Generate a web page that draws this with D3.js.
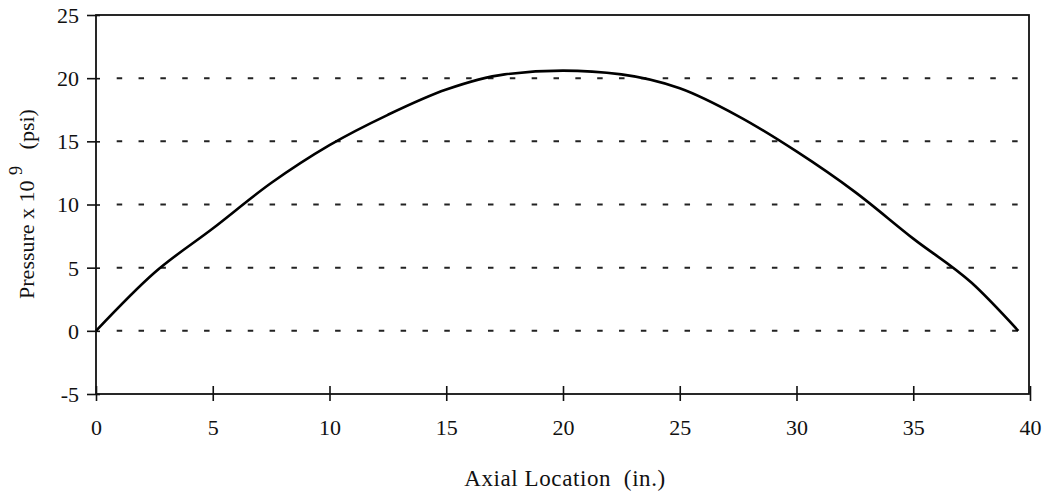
<!DOCTYPE html>
<html>
<head>
<meta charset="utf-8">
<script src="https://cdn.jsdelivr.net/npm/d3@7"></script>
<style>
    body { margin: 0; background: #fff; }
    svg text { font-family: "Liberation Serif", "DejaVu Serif", serif; fill: #111; }
</style>
</head>
<body>
<div id="chart"></div>
<script>
// axial location (in.) and pressure x 10^9 (psi)
const axialLocation = [0, 2.5, 5, 7.5, 10, 12.5, 15, 17.5, 20, 22.5, 25, 27.5, 30, 32.5, 35, 37.5, 39.5];
const pressure = [0, 4.6, 8.1, 11.7, 14.7, 17.1, 19.1, 20.3, 20.6, 20.3, 19.2, 17.0, 14.2, 11.0, 7.3, 3.8, 0];

const xTicks = [0, 5, 10, 15, 20, 25, 30, 35, 40];
const yTicks = [-5, 0, 5, 10, 15, 20, 25];
const gridValues = [0, 5, 10, 15, 20];

const width = 1050, height = 495;
const margin = {left: 96, right: 21, top: 15, bottom: 101};

const svg = d3.select('#chart')
    .append('svg')
    .attr('width', width)
    .attr('height', height);

const x = d3.scaleLinear().domain([0, 40]).range([margin.left, width - margin.right + 1]);
const y = d3.scaleLinear().domain([-5, 25]).range([height - margin.bottom, margin.top]);

// dashed horizontal grid
svg.selectAll('line.grid')
    .data(gridValues)
    .enter().append('line')
    .attr('class', 'grid')
    .attr('x1', 116.7)
    .attr('x2', 1019)
    .attr('y1', d => y(d))
    .attr('y2', d => y(d))
    .attr('stroke', '#222')
    .attr('stroke-width', 2)
    .attr('stroke-dasharray', '5.5,16.34');

// frame
svg.append('rect')
    .attr('x', x(0))
    .attr('y', y(25))
    .attr('width', x(40) - x(0) - 1)
    .attr('height', y(-5) - y(25))
    .attr('fill', 'none')
    .attr('stroke', '#111')
    .attr('stroke-width', 1.8);

// x axis
const xAxis = svg.append('g')
    .attr('transform', `translate(0,${y(-5)})`)
    .call(d3.axisBottom(x).tickValues(xTicks).tickFormat(d => String(d)).tickSize(8));
xAxis.select('.domain').remove();
xAxis.selectAll('.tick line')
    .attr('y1', -8)
    .attr('y2', 7)
    .attr('stroke', '#111')
    .attr('stroke-width', 1.6);
xAxis.selectAll('.tick text')
    .attr('y', 41)
    .attr('dy', 0)
    .attr('font-size', 22)
    .attr('font-family', '"Liberation Serif", serif')
    .attr('fill', '#111');

// y axis
const yAxis = svg.append('g')
    .attr('transform', `translate(${x(0)},0)`)
    .call(d3.axisLeft(y).tickValues(yTicks).tickFormat(d => String(d)).tickSize(9));
yAxis.select('.domain').remove();
yAxis.selectAll('.tick line')
    .attr('x1', 4)
    .attr('x2', -9)
    .attr('stroke', '#111')
    .attr('stroke-width', 1.6);
yAxis.selectAll('.tick text')
    .attr('x', -17)
    .attr('dy', '0.34em')
    .attr('font-size', 22)
    .attr('font-family', '"Liberation Serif", serif')
    .attr('fill', '#111');

// pressure curve
const line = d3.line()
    .x((d, i) => x(axialLocation[i]))
    .y(d => y(d))
    .curve(d3.curveMonotoneX);

svg.append('path')
    .datum(pressure)
    .attr('d', line)
    .attr('fill', 'none')
    .attr('stroke', '#000')
    .attr('stroke-width', 2.6)
    .attr('stroke-linejoin', 'round');

// axis titles
svg.append('text')
    .attr('x', 565)
    .attr('y', 486)
    .attr('text-anchor', 'middle')
    .attr('font-size', 23)
    .attr('letter-spacing', 0.6)
    .attr('xml:space', 'preserve')
    .text('Axial Location  (in.)');

const yTitle = svg.append('text')
    .attr('transform', 'translate(34,204) rotate(-90)')
    .attr('text-anchor', 'middle')
    .attr('font-size', 22)
    .attr('xml:space', 'preserve');
yTitle.append('tspan').text('Pressure x 10 ');
yTitle.append('tspan').attr('dy', -12).attr('font-size', 18).text('9');
yTitle.append('tspan').attr('dy', 12).text('   (psi)');
</script>
</body>
</html>
